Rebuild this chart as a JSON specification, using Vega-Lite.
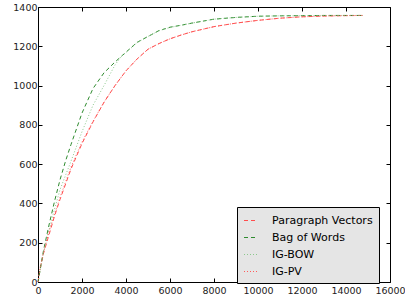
{
  "$schema": "https://vega.github.io/schema/vega-lite/v6.json",
  "width": 352,
  "height": 275,
  "autosize": "none",
  "padding": {"left": 38, "top": 7, "right": 15, "bottom": 18},
  "background": "white",
  "config": {
    "view": {"stroke": "black", "strokeWidth": 1},
    "axis": {"grid": false, "domain": false, "tickColor": "black", "tickSize": -4, "labelFont": "DejaVu Sans", "labelFontSize": 9.5, "labelColor": "#222", "labelPadding": 4, "labelOverlap": false, "labelFlush": false, "labelBound": false, "title": null},
    "legend": {"labelFont": "DejaVu Sans", "labelFontSize": 11, "labelColor": "black"}
  },
  "datasets": {
    "lines": [
      {"s": "Paragraph Vectors", "x": 0, "y": 0},
      {"s": "Paragraph Vectors", "x": 100, "y": 70},
      {"s": "Paragraph Vectors", "x": 250, "y": 145},
      {"s": "Paragraph Vectors", "x": 500, "y": 240},
      {"s": "Paragraph Vectors", "x": 750, "y": 335},
      {"s": "Paragraph Vectors", "x": 1000, "y": 420},
      {"s": "Paragraph Vectors", "x": 1500, "y": 575},
      {"s": "Paragraph Vectors", "x": 2000, "y": 705},
      {"s": "Paragraph Vectors", "x": 2500, "y": 815},
      {"s": "Paragraph Vectors", "x": 3000, "y": 915},
      {"s": "Paragraph Vectors", "x": 3500, "y": 1000},
      {"s": "Paragraph Vectors", "x": 4000, "y": 1075},
      {"s": "Paragraph Vectors", "x": 4500, "y": 1135},
      {"s": "Paragraph Vectors", "x": 5000, "y": 1185},
      {"s": "Paragraph Vectors", "x": 5500, "y": 1214},
      {"s": "Paragraph Vectors", "x": 6000, "y": 1238},
      {"s": "Paragraph Vectors", "x": 6500, "y": 1257},
      {"s": "Paragraph Vectors", "x": 7000, "y": 1274},
      {"s": "Paragraph Vectors", "x": 7500, "y": 1287},
      {"s": "Paragraph Vectors", "x": 8000, "y": 1300},
      {"s": "Paragraph Vectors", "x": 9000, "y": 1318},
      {"s": "Paragraph Vectors", "x": 10000, "y": 1332},
      {"s": "Paragraph Vectors", "x": 11000, "y": 1343},
      {"s": "Paragraph Vectors", "x": 12000, "y": 1350},
      {"s": "Paragraph Vectors", "x": 13000, "y": 1354},
      {"s": "Paragraph Vectors", "x": 14000, "y": 1356},
      {"s": "Paragraph Vectors", "x": 14800, "y": 1357},
      {"s": "Bag of Words", "x": 0, "y": 0},
      {"s": "Bag of Words", "x": 250, "y": 160},
      {"s": "Bag of Words", "x": 500, "y": 290},
      {"s": "Bag of Words", "x": 750, "y": 410},
      {"s": "Bag of Words", "x": 1000, "y": 520},
      {"s": "Bag of Words", "x": 1250, "y": 615},
      {"s": "Bag of Words", "x": 1500, "y": 700},
      {"s": "Bag of Words", "x": 2000, "y": 860},
      {"s": "Bag of Words", "x": 2500, "y": 985},
      {"s": "Bag of Words", "x": 3000, "y": 1065},
      {"s": "Bag of Words", "x": 3500, "y": 1120},
      {"s": "Bag of Words", "x": 4000, "y": 1170},
      {"s": "Bag of Words", "x": 4500, "y": 1220},
      {"s": "Bag of Words", "x": 5000, "y": 1250},
      {"s": "Bag of Words", "x": 5500, "y": 1280},
      {"s": "Bag of Words", "x": 6000, "y": 1297},
      {"s": "Bag of Words", "x": 6500, "y": 1307},
      {"s": "Bag of Words", "x": 7000, "y": 1318},
      {"s": "Bag of Words", "x": 7500, "y": 1328},
      {"s": "Bag of Words", "x": 8000, "y": 1338},
      {"s": "Bag of Words", "x": 9000, "y": 1347},
      {"s": "Bag of Words", "x": 10000, "y": 1353},
      {"s": "Bag of Words", "x": 11000, "y": 1355},
      {"s": "Bag of Words", "x": 12000, "y": 1356},
      {"s": "Bag of Words", "x": 13000, "y": 1357},
      {"s": "Bag of Words", "x": 14000, "y": 1357},
      {"s": "Bag of Words", "x": 14800, "y": 1357},
      {"s": "IG-BOW", "x": 0, "y": 0},
      {"s": "IG-BOW", "x": 250, "y": 150},
      {"s": "IG-BOW", "x": 500, "y": 265},
      {"s": "IG-BOW", "x": 750, "y": 370},
      {"s": "IG-BOW", "x": 1000, "y": 470},
      {"s": "IG-BOW", "x": 1500, "y": 615},
      {"s": "IG-BOW", "x": 2000, "y": 765},
      {"s": "IG-BOW", "x": 2500, "y": 900},
      {"s": "IG-BOW", "x": 3000, "y": 1000},
      {"s": "IG-BOW", "x": 3500, "y": 1105},
      {"s": "IG-BOW", "x": 3800, "y": 1150},
      {"s": "IG-BOW", "x": 4000, "y": 1168},
      {"s": "IG-BOW", "x": 4500, "y": 1218},
      {"s": "IG-BOW", "x": 5000, "y": 1250},
      {"s": "IG-BOW", "x": 5500, "y": 1279},
      {"s": "IG-BOW", "x": 6000, "y": 1296},
      {"s": "IG-BOW", "x": 6500, "y": 1307},
      {"s": "IG-BOW", "x": 7000, "y": 1318},
      {"s": "IG-BOW", "x": 7500, "y": 1328},
      {"s": "IG-BOW", "x": 8000, "y": 1338},
      {"s": "IG-BOW", "x": 9000, "y": 1347},
      {"s": "IG-BOW", "x": 10000, "y": 1353},
      {"s": "IG-BOW", "x": 11000, "y": 1355},
      {"s": "IG-BOW", "x": 12000, "y": 1356},
      {"s": "IG-BOW", "x": 13000, "y": 1357},
      {"s": "IG-BOW", "x": 14000, "y": 1357},
      {"s": "IG-BOW", "x": 14800, "y": 1357},
      {"s": "IG-PV", "x": 0, "y": 0},
      {"s": "IG-PV", "x": 100, "y": 75},
      {"s": "IG-PV", "x": 250, "y": 150},
      {"s": "IG-PV", "x": 500, "y": 255},
      {"s": "IG-PV", "x": 1000, "y": 430},
      {"s": "IG-PV", "x": 1500, "y": 585},
      {"s": "IG-PV", "x": 2000, "y": 712},
      {"s": "IG-PV", "x": 2500, "y": 818},
      {"s": "IG-PV", "x": 3000, "y": 915},
      {"s": "IG-PV", "x": 3500, "y": 1000},
      {"s": "IG-PV", "x": 4000, "y": 1075},
      {"s": "IG-PV", "x": 4500, "y": 1135},
      {"s": "IG-PV", "x": 5000, "y": 1185},
      {"s": "IG-PV", "x": 5500, "y": 1214},
      {"s": "IG-PV", "x": 6000, "y": 1238},
      {"s": "IG-PV", "x": 6500, "y": 1257},
      {"s": "IG-PV", "x": 7000, "y": 1274},
      {"s": "IG-PV", "x": 7500, "y": 1287},
      {"s": "IG-PV", "x": 8000, "y": 1300},
      {"s": "IG-PV", "x": 9000, "y": 1318},
      {"s": "IG-PV", "x": 10000, "y": 1332},
      {"s": "IG-PV", "x": 11000, "y": 1343},
      {"s": "IG-PV", "x": 12000, "y": 1350},
      {"s": "IG-PV", "x": 13000, "y": 1354},
      {"s": "IG-PV", "x": 14000, "y": 1356},
      {"s": "IG-PV", "x": 14800, "y": 1357}
    ]
  },
  "data": {"name": "lines"},
  "layer": [
    {
      "mark": {"type": "line", "strokeWidth": 1},
      "encoding": {
        "x": {"field": "x", "type": "quantitative", "scale": {"domain": [0, 16000], "nice": false}, "axis": {"orient": "bottom", "values": [0, 2000, 4000, 6000, 8000, 10000, 12000, 14000, 16000], "format": "d", "labelPadding": 7}},
        "y": {"field": "y", "type": "quantitative", "scale": {"domain": [0, 1400], "nice": false}, "axis": {"orient": "left", "values": [0, 200, 400, 600, 800, 1000, 1200, 1400], "format": "d", "labelPadding": 5}},
        "color": {"field": "s", "type": "nominal", "scale": {"domain": ["Paragraph Vectors", "Bag of Words", "IG-BOW", "IG-PV"], "range": ["#ff4d4d", "#2e8b2e", "#8cc88c", "#ff5a5a"]},
          "legend": {"title": null, "orient": "none", "legendX": 199, "legendY": 200, "fillColor": "#e5e5e5", "strokeColor": "black", "padding": 6, "symbolType": "stroke", "symbolSize": 169, "symbolStrokeWidth": 1.2, "labelOffset": 14, "rowPadding": 4}},
        "strokeDash": {"field": "s", "type": "nominal", "scale": {"domain": ["Paragraph Vectors", "Bag of Words", "IG-BOW", "IG-PV"], "range": [[4, 3], [4, 3], [1, 2], [1, 2]]}, "legend": null},
        "order": {"field": "x", "type": "quantitative"}
      }
    },
    {
      "mark": {"type": "line", "opacity": 0},
      "encoding": {
        "x": {"field": "x", "type": "quantitative", "axis": {"orient": "top", "values": [0, 2000, 4000, 6000, 8000, 10000, 12000, 14000, 16000], "labels": false}},
        "y": {"field": "y", "type": "quantitative", "axis": {"orient": "right", "values": [0, 200, 400, 600, 800, 1000, 1200, 1400], "labels": false}}
      }
    }
  ],
  "resolve": {"axis": {"x": "independent", "y": "independent"}}
}
